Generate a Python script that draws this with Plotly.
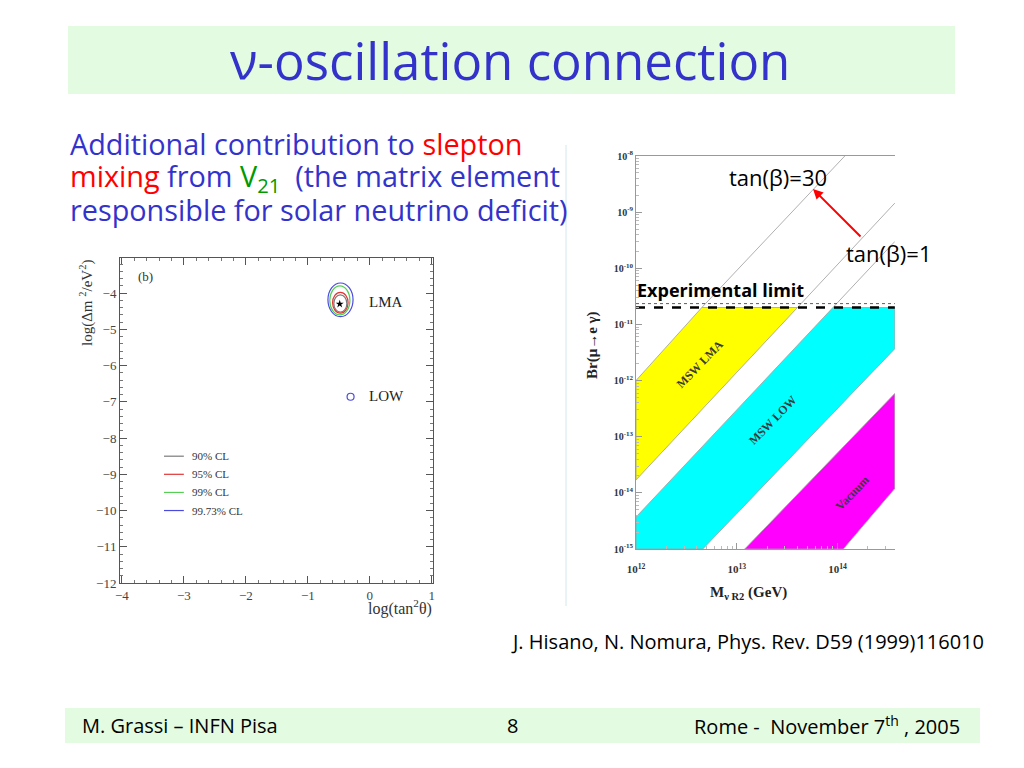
import math
import plotly.graph_objects as go

# ---------------- Left panel data: solar neutrino fit (b) ----------------
cl_labels = ["90% CL", "95% CL", "99% CL", "99.73% CL"]
cl_colors = ["#7a7a7a", "#e03535", "#55d055", "#4a4ae0"]
lma_x0 = [-0.58, -0.60, -0.645, -0.675]
lma_x1 = [-0.37, -0.35, -0.32, -0.27]
lma_y0 = [-4.52, -4.55, -4.60, -4.65]
lma_y1 = [-4.05, -3.98, -3.80, -3.72]
best_fit_x = [-0.485]
best_fit_y = [-4.30]
low_x = [-0.31]
low_y = [-6.86]
legend_y = [-8.5, -9.0, -9.5, -10.0]
legend_x = [-3.32, -3.0]
left_xticks = [-4, -3, -2, -1, 0, 1]
left_yticks = [-4, -5, -6, -7, -8, -9, -10, -11, -12]

# ---------------- Right panel data: Br(mu -> e gamma) vs M_nuR2 ----------------
exp_limit = 2.0e-11
orig_limit = 2.35e-11
lma_band_M = [1e12, 4.5e12, 4.0e13, 1e12]
lma_band_Br = [1e-12, 2.0e-11, 2.0e-11, 1.7e-14]
low_band_M = [1e12, 9.0e13, 3.7e14, 3.7e14, 4.6e12, 1e12]
low_band_Br = [3.7e-15, 2.0e-11, 2.0e-11, 3.7e-12, 1e-15, 1e-15]
vac_band_M = [1.2e13, 3.7e14, 3.7e14, 1.14e14]
vac_band_Br = [1e-15, 5.9e-13, 1.2e-14, 1e-15]
gray_lines_M = [[4.5e12, 1.18e14], [4.0e13, 3.7e14], [9.0e13, 3.7e14]]
gray_lines_Br = [[2.0e-11, 1e-8], [2.0e-11, 1.45e-9], [2.0e-11, 3.0e-10]]
band_labels = ["MSW LMA", "MSW LOW", "Vacuum"]
band_label_M = [4.3e12, 2.3e13, 1.4e14]
band_label_Br = [2.0e-12, 1.95e-13, 1.0e-14]
right_xticks = [1e12, 1e13, 1e14]
right_xticktext = ["<b>10<sup>12</sup></b>", "<b>10<sup>13</sup></b>", "<b>10<sup>14</sup></b>"]
right_yticks = [1e-8, 1e-9, 1e-10, 1e-11, 1e-12, 1e-13, 1e-14, 1e-15]
right_yticktext = ["<b>10<sup>-8</sup></b>", "<b>10<sup>-9</sup></b>", "<b>10<sup>-10</sup></b>",
                   "<b>10<sup>-11</sup></b>", "<b>10<sup>-12</sup></b>", "<b>10<sup>-13</sup></b>",
                   "<b>10<sup>-14</sup></b>", "<b>10<sup>-15</sup></b>"]

# page is 1024x768 with the browser's default 8px body margin
OFF = 8
W, H = 1024 - 2 * OFF, 768 - 2 * OFF
SANS = "Open Sans"
SERIF = "Liberation Serif"
BLUE = "#3333cc"


def px(x):
    return (x - OFF) / W


def py(y):
    return 1 - (y - OFF) / H


def note(x, y, text, size, color="black", family=SANS, xanchor="center", angle=0):
    return dict(x=px(x), y=py(y), xref="paper", yref="paper", text=text, showarrow=False,
                xanchor=xanchor, yanchor="middle", textangle=angle,
                font=dict(family=family, size=size, color=color))


fig = go.Figure()

# ---- left panel traces ----
for i, lab in enumerate(cl_labels):
    fig.add_trace(go.Scatter(x=legend_x, y=[legend_y[i]] * 2, mode="lines",
                             line=dict(color=cl_colors[i], width=1.2),
                             xaxis="x", yaxis="y", showlegend=False, hoverinfo="skip"))
fig.add_trace(go.Scatter(x=best_fit_x, y=best_fit_y, mode="markers",
                         marker=dict(symbol="star", size=6, color="black"),
                         xaxis="x", yaxis="y", showlegend=False))
fig.add_trace(go.Scatter(x=low_x, y=low_y, mode="markers",
                         marker=dict(symbol="circle-open", size=7, color=cl_colors[3],
                                     line=dict(width=1.2)),
                         xaxis="x", yaxis="y", showlegend=False))

# ---- right panel traces ----
for bx, by, col in [(lma_band_M, lma_band_Br, "#ffff00"),
                    (low_band_M, low_band_Br, "#00ffff"),
                    (vac_band_M, vac_band_Br, "#ff00ff")]:
    fig.add_trace(go.Scatter(x=bx + [bx[0]], y=by + [by[0]], mode="lines", fill="toself",
                             fillcolor=col, line=dict(color="#a0a0a0", width=0.8),
                             xaxis="x2", yaxis="y2", showlegend=False, hoverinfo="skip"))
for gx, gy in zip(gray_lines_M, gray_lines_Br):
    fig.add_trace(go.Scatter(x=gx, y=gy, mode="lines", line=dict(color="#b0b0b0", width=1),
                             xaxis="x2", yaxis="y2", showlegend=False, hoverinfo="skip"))
fig.add_trace(go.Scatter(x=[right_xticks[0], low_band_M[2]], y=[orig_limit, orig_limit], mode="lines",
                         line=dict(color="#333", width=0.8, dash="dot"),
                         xaxis="x2", yaxis="y2", showlegend=False, hoverinfo="skip"))
fig.add_trace(go.Scatter(x=[right_xticks[0], low_band_M[2]], y=[exp_limit, exp_limit], mode="lines",
                         line=dict(color="black", width=2.5, dash="dash"),
                         xaxis="x2", yaxis="y2", showlegend=False, hoverinfo="skip"))

annotations = []
# left legend labels
for i, lab in enumerate(cl_labels):
    annotations.append(dict(x=legend_x[1] + 0.1, y=legend_y[i], xref="x", yref="y", text=lab,
                            showarrow=False, xanchor="left", yanchor="middle",
                            font=dict(family=SERIF, size=11, color="#333")))
annotations += [
    dict(x=-3.78, y=-3.55, xref="x", yref="y", text="(b)", showarrow=False, xanchor="left",
         yanchor="middle", font=dict(family=SERIF, size=13, color="#333")),
    dict(x=-0.04, y=-4.24, xref="x", yref="y", text="LMA", showarrow=False, xanchor="left",
         yanchor="middle", font=dict(family=SERIF, size=15, color="#222")),
    dict(x=-0.04, y=-6.84, xref="x", yref="y", text="LOW", showarrow=False, xanchor="left",
         yanchor="middle", font=dict(family=SERIF, size=15, color="#222")),
    note(86, 303, "log(Δm <sup>2</sup>/eV<sup>2</sup>)", 15, "#333", SERIF, angle=-90),
    note(434, 607, "log(tan<sup>2</sup>θ)", 16, "#333", SERIF, xanchor="right"),
]
# right band labels
for lab, bm, bb in zip(band_labels, band_label_M, band_label_Br):
    annotations.append(dict(x=math.log10(bm), y=math.log10(bb), xref="x2", yref="y2",
                            text="<b>" + lab + "</b>", showarrow=False, textangle=-46,
                            xanchor="center", yanchor="middle",
                            font=dict(family=SERIF, size=12, color="#3a3a3a")))
annotations += [
    note(592, 345, "<b>Br(μ→e γ)</b>", 15, "#222", SERIF, angle=-90),
    note(748, 593, "<b>M<sub>ν R2</sub> (GeV)</b>", 15, "#222", SERIF),
    note(720, 290, "<b>Experimental limit</b>", 18),
    note(778, 177, "tan(β)=30", 22),
    note(934, 253, "tan(β)=1", 22, xanchor="right"),
    dict(x=px(813), y=py(189), xref="paper", yref="paper", text="", showarrow=True,
         ax=49, ay=49, arrowcolor="red", arrowwidth=2, arrowhead=2, arrowsize=1),
]
# slide text
annotations += [
    note(510, 60, "ν-oscillation connection", 51, BLUE),
    note(68, 143, "Additional contribution to <span style='color:#ff0000'>slepton</span>",
         28.8, BLUE, xanchor="left"),
    note(68, 177, "<span style='color:#ff0000'>mixing</span> from "
                  "<span style='color:#009900'>V<sub>21</sub></span>  (the matrix element",
         28.8, BLUE, xanchor="left"),
    note(68, 210, "responsible for solar neutrino deficit)", 28.8, BLUE, xanchor="left"),
    note(986, 641, "J. Hisano, N. Nomura, Phys. Rev. D59 (1999)116010", 20, xanchor="right"),
    note(80, 725, "M. Grassi – INFN Pisa", 20, xanchor="left"),
    note(512, 725, "8", 20),
    note(962, 725, "Rome -  November 7<sup>th</sup> , 2005", 20, xanchor="right"),
]

shapes = [
    dict(type="rect", xref="paper", yref="paper", x0=px(68), x1=px(955), y0=py(94), y1=py(26),
         fillcolor="#e3fbe0", line=dict(width=0), layer="below"),
    dict(type="rect", xref="paper", yref="paper", x0=px(65), x1=px(980), y0=py(743), y1=py(708),
         fillcolor="#e3fbe0", line=dict(width=0), layer="below"),
    dict(type="line", xref="paper", yref="paper", x0=px(566), x1=px(566), y0=py(145), y1=py(606),
         line=dict(color="#cfe8f0", width=1), layer="below"),
]
for i in range(4):
    shapes.append(dict(type="circle", xref="x", yref="y", x0=lma_x0[i], x1=lma_x1[i],
                       y0=lma_y0[i], y1=lma_y1[i], line=dict(color=cl_colors[i], width=1.2)))

fig.update_layout(
    width=W, height=H, margin=dict(l=0, r=0, t=0, b=0, pad=0, autoexpand=False),
    paper_bgcolor="white", plot_bgcolor="white", showlegend=False,
    annotations=annotations, shapes=shapes,
    xaxis=dict(domain=[px(120), px(433)], range=[-4.03, 1.02], tickvals=left_xticks,
               ticks="inside", ticklen=7, tickcolor="#555", showline=True, linecolor="#555",
               linewidth=1, mirror="allticks", showgrid=False, zeroline=False, automargin=False,
               minor=dict(ticks="inside", ticklen=3, dtick=0.2, tickcolor="#777"),
               tickfont=dict(family=SERIF, size=13, color="#444"), anchor="y"),
    yaxis=dict(domain=[py(583), py(258)], range=[-12, -3.03], tickvals=left_yticks,
               ticks="inside", ticklen=7, tickcolor="#555", showline=True, linecolor="#555",
               linewidth=1, mirror="allticks", showgrid=False, zeroline=False, automargin=False,
               minor=dict(ticks="inside", ticklen=3, dtick=0.2, tickcolor="#777"),
               tickfont=dict(family=SERIF, size=13, color="#444"), anchor="x"),
    xaxis2=dict(domain=[px(636), px(895)], type="log", range=[12, 14.57],
                tickvals=right_xticks, ticktext=right_xticktext, ticks="inside", ticklen=6,
                tickcolor="#999", showline=True, linecolor="#999", linewidth=1, mirror=True,
                showgrid=False, zeroline=False, ticklabelstandoff=10, automargin=False,
                minor=dict(ticks="inside", ticklen=3, tickcolor="#bbb", dtick="D1"),
                tickfont=dict(family=SERIF, size=11, color="#333"), anchor="y2"),
    yaxis2=dict(domain=[py(549), py(156)], type="log", range=[-15, -8],
                tickvals=right_yticks, ticktext=right_yticktext, ticks="inside", ticklen=6,
                tickcolor="#999", showline=True, linecolor="#999", linewidth=1, automargin=False,
                showgrid=False, zeroline=False,
                minor=dict(ticks="inside", ticklen=3, tickcolor="#bbb", dtick="D1"),
                tickfont=dict(family=SERIF, size=10, color="#333"), anchor="x2"),
)

fig.write_html("out.html", config={"displayModeBar": False})
